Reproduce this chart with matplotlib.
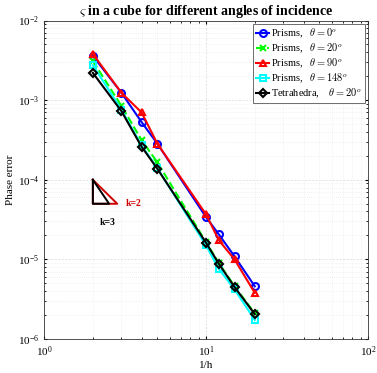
import numpy as np
import matplotlib
matplotlib.use('Agg')
import matplotlib.pyplot as plt

plt.rcParams['font.family'] = ['Liberation Serif', 'DejaVu Serif']
plt.rcParams['mathtext.fontset'] = 'cm'

# 1/h values
inv_h = [2, 3, 4, 5, 10, 12, 15, 20]

# phase error per mesh / angle
prisms_0 = [3.6e-3, 1.24e-3, 5.3e-4, 2.85e-4, 3.4e-5, 2.06e-5, 1.09e-5, 4.6e-6]
prisms_20 = [3.1e-3, 8.5e-4, 3.15e-4, 1.66e-4, 1.65e-5, 9.0e-6, 4.6e-6, 2.1e-6]
prisms_90 = [3.8e-3, 1.24e-3, 7.0e-4, 2.85e-4, 3.68e-5, 1.74e-5, 1.0e-5, 3.8e-6]
prisms_148 = [2.75e-3, 7.6e-4, 2.7e-4, 1.4e-4, 1.5e-5, 7.6e-6, 4.2e-6, 1.74e-6]
tetra_20 = [2.2e-3, 7.3e-4, 2.6e-4, 1.38e-4, 1.62e-5, 8.8e-6, 4.5e-6, 2.05e-6]

series = [
    (prisms_0, 'b-o', r'Prisms,   $\theta = 0^o$'),
    (prisms_20, 'g--x', r'Prisms,   $\theta = 20^o$'),
    (prisms_90, 'r-^', r'Prisms,   $\theta = 90^o$'),
    (prisms_148, 'c-s', r'Prisms,   $\theta = 148^o$'),
    (tetra_20, 'k-D', r'Tetrahedra,    $\theta = 20^o$'),
]

fig = plt.figure(figsize=(3.77, 3.73), dpi=100)
ax = fig.add_axes([0.117, 0.091, 0.859, 0.854])

for y, fmt, lab in series:
    col = fmt[0]
    if col == 'g':
        col = (0, 1, 0)
    elif col == 'c':
        col = (0, 1, 1)
    ax.plot(inv_h, y, fmt[1:], color=col, lw=1.5, ms=5 if fmt[-1] != 'D' else 4,
            mfc='none', mew=1.5, label=lab)

# slope triangles
x3 = 2 * 10 ** (np.log10(2) / 3)
x2 = 2 * 10 ** (np.log10(2) / 2)
ax.plot([2, x2, 2, 2], [1e-4, 5e-5, 5e-5, 1e-4], color='#d00000', lw=1.4)
ax.plot([2, x3, 2, 2], [1e-4, 5e-5, 5e-5, 1e-4], color='k', lw=1.4)
ax.text(3.2, 5.0e-5, 'k=2', color='#d00000', fontsize=7, fontweight='bold', ha='left', va='center')
ax.text(2.22, 2.9e-5, 'k=3', color='k', fontsize=7, fontweight='bold', ha='left', va='center')

ax.set_xscale('log')
ax.set_yscale('log')
ax.set_xlim(1, 100)
ax.set_ylim(1e-6, 1e-2)
ax.grid(True, which='major', color='#d8d8d8', lw=0.5, ls=(0, (3, 2)))
ax.grid(True, which='minor', color='#e6e6e6', lw=0.5, ls=(0, (1, 2)))
ax.tick_params(which='both', direction='in', top=True, right=True, labelsize=8, length=2.5)
ax.tick_params(which='minor', length=1.5)
for s in ax.spines.values():
    s.set_linewidth(0.6)
    s.set_color('#333333')

ax.set_xlabel('1/h', fontsize=8, labelpad=2)
ax.set_ylabel('Phase error', fontsize=8, labelpad=2)
ax.set_title(r'$\varsigma$ in a cube for different angles of incidence', fontsize=10,
             fontweight='bold', pad=4)

leg = ax.legend(loc='upper right', fontsize=7.5, handlelength=1.2, handletextpad=0.2,
                labelspacing=0.15, borderpad=0.3, fancybox=False, framealpha=1,
                borderaxespad=0.3)
leg.get_frame().set_edgecolor('#555555')
leg.get_frame().set_linewidth(0.6)

fig.savefig('out.png', dpi=100)
